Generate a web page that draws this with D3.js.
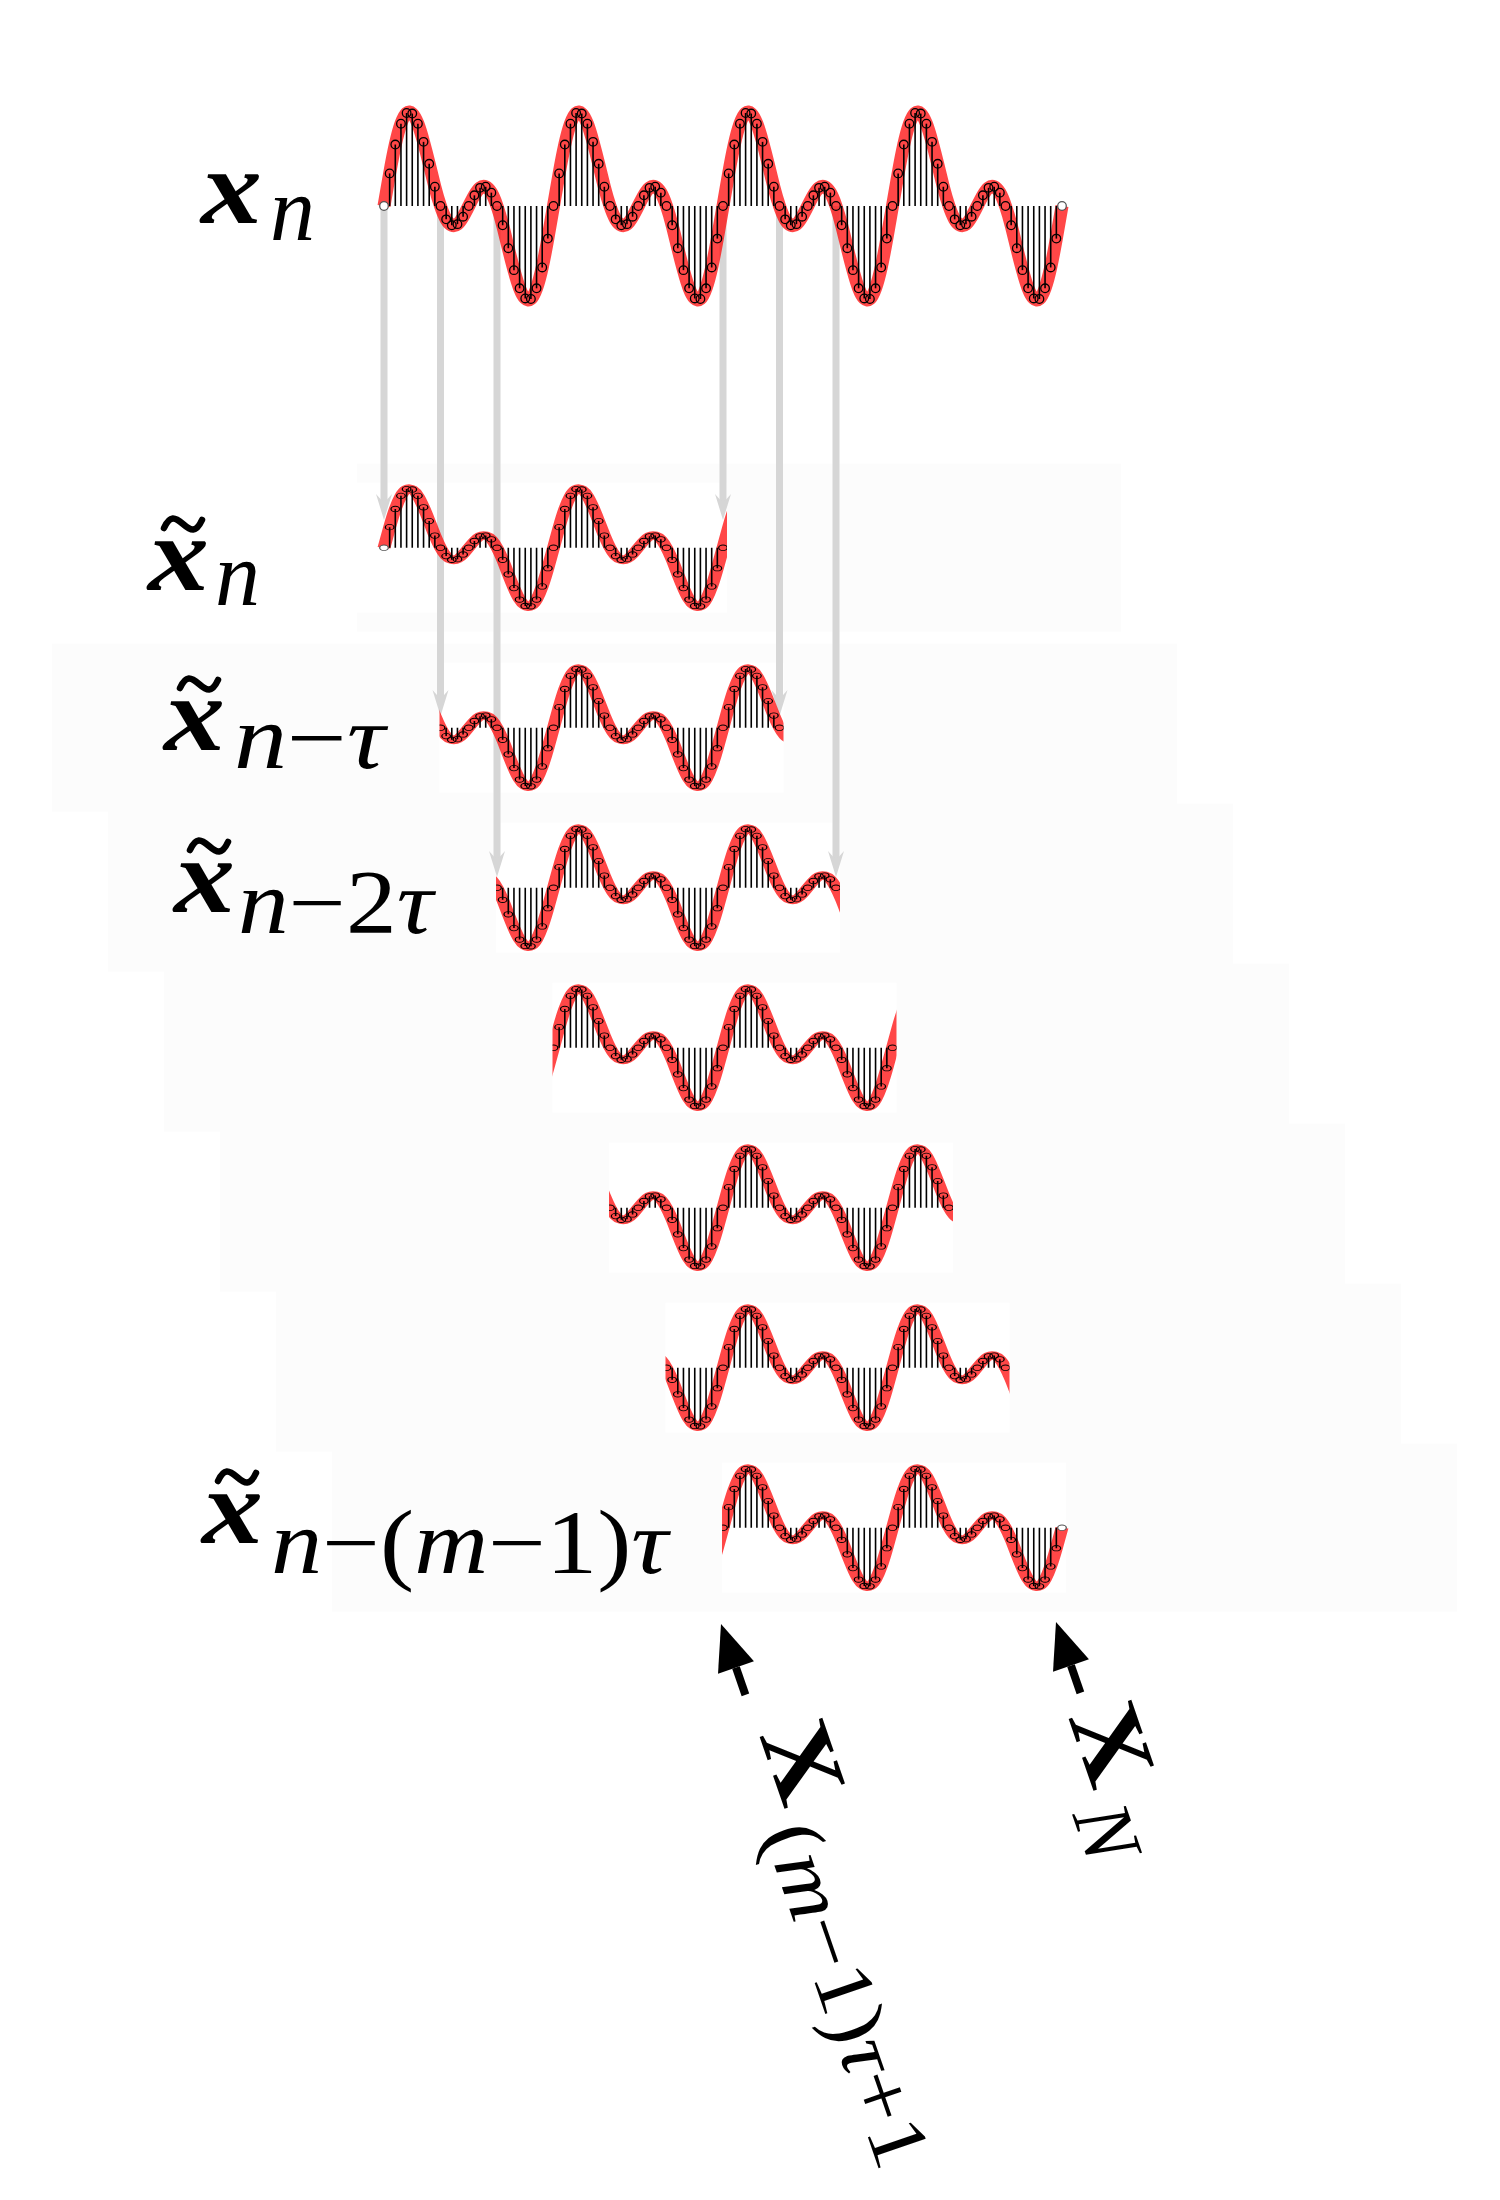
<!DOCTYPE html>
<html>
<head>
<meta charset="utf-8">
<script src="https://cdn.jsdelivr.net/npm/d3@7/dist/d3.min.js"></script>
<style>
  body { margin: 0; background: #fff; }
  text { font-family: "Liberation Serif", "DejaVu Serif", serif; fill: #000; }
</style>
</head>
<body>
<svg id="chart" width="1500" height="2200"></svg>
<script>
var signal = [
  0, 0.61, 1.15, 1.54, 1.74, 1.73, 1.54, 1.20, 0.79, 0.36,
  0, -0.25, -0.36, -0.34, -0.20, 0, 0.20, 0.34, 0.36, 0.25,
  0, -0.36, -0.79, -1.20, -1.54, -1.73, -1.74, -1.54, -1.15, -0.61,
  0, 0.61, 1.15, 1.54, 1.74, 1.73, 1.54, 1.20, 0.79, 0.36,
  0, -0.25, -0.36, -0.34, -0.20, 0, 0.20, 0.34, 0.36, 0.25,
  0, -0.36, -0.79, -1.20, -1.54, -1.73, -1.74, -1.54, -1.15, -0.61,
  0, 0.61, 1.15, 1.54, 1.74, 1.73, 1.54, 1.20, 0.79, 0.36,
  0, -0.25, -0.36, -0.34, -0.20, 0, 0.20, 0.34, 0.36, 0.25,
  0, -0.36, -0.79, -1.20, -1.54, -1.73, -1.74, -1.54, -1.15, -0.61,
  0, 0.61, 1.15, 1.54, 1.74, 1.73, 1.54, 1.20, 0.79, 0.36,
  0, -0.25, -0.36, -0.34, -0.20, 0, 0.20, 0.34, 0.36, 0.25,
  0, -0.36, -0.79, -1.20, -1.54, -1.73, -1.74, -1.54, -1.15, -0.61,
  0
];

// delay embedding: each row starts tau samples later, window of 60 intervals
var tau = 10;
var windowLen = 60;
var rowStarts = [0, 10, 20, 30, 40, 50, 60];

// gray arrows: sample in x_n -> row it lands on
var arrowSamples = [0, 10, 20, 60, 70, 80];
var arrowRows = [0, 1, 2, 0, 1, 2];

// row labels (only some rows carry one); parts are [text, italic]
var rowLabelRows = [0, 1, 2, 6];
var rowLabelSubs = [
  [["n", 1]],
  [["n", 1], ["\u2212", 0], ["\u03c4", 1]],
  [["n", 1], ["\u22122", 0], ["\u03c4", 1]],
  [["n", 1], ["\u2212(", 0], ["m", 1], ["\u22121)", 0], ["\u03c4", 1]]
];
var bottomSubs = [
  [["(", 0], ["m", 1], ["\u22121)", 0], ["\u03c4", 1], ["+1", 0]],
  [["N", 1]]
];

// ---- layout
var svg = d3.select("#chart");
var topBase = 206;
var rowBase = [547.7, 727.7, 887.7, 1047.7, 1207.7, 1367.7, 1527.7];
var squash = 0.63;   // lower rows are drawn vertically compressed
var arrowTip = [520, 716, 877];

var x = d3.scaleLinear().domain([0, signal.length - 1]).range([384, 1062]);
var y = d3.scaleLinear().domain([-1.74, 1.74]).range([93, -93]);

var line = d3.line()
    .x(function(d, i) { return x(i); })
    .y(function(d) { return y(d); })
    .curve(d3.curveNatural);

// faint panel backgrounds behind the delayed rows
var bg = svg.append("g");
rowStarts.forEach(function(s, r) {
    var b = rowBase[r];
    var left = r === 0 ? 357 : x(s) - 1;
    var gx = r === 0 ? left : -4 + 56 * r;
    bg.append("rect")
        .attr("x", gx).attr("y", b - 84)
        .attr("width", 1121 + 56 * r - gx).attr("height", 168)
        .attr("fill", "#fcfcfc");
    bg.append("rect")
        .attr("x", left).attr("y", b - 65)
        .attr("width", x(s + windowLen) + 4 - left).attr("height", 130)
        .attr("fill", "#fff");
});

// gray arrows from x_n down to the delayed rows
var arrows = svg.append("g");
arrowSamples.forEach(function(s, k) {
    var sx = x(s), tip = arrowTip[arrowRows[k]];
    arrows.append("line")
        .attr("x1", sx).attr("y1", topBase)
        .attr("x2", sx).attr("y2", tip - 14)
        .attr("stroke", "#d6d6d6").attr("stroke-width", 7);
    arrows.append("path")
        .attr("d", "M" + sx + "," + tip + "L" + (sx - 8) + "," + (tip - 26) +
                   "L" + sx + "," + (tip - 17) + "L" + (sx + 8) + "," + (tip - 26) + "Z")
        .attr("fill", "#d6d6d6");
});

// one stem row: red curve, stems and circle markers
function drawRow(g, from, to) {
    g.append("path")
        .attr("d", line(signal))
        .attr("fill", "none")
        .attr("stroke", "red").attr("stroke-opacity", 0.72)
        .attr("stroke-width", 13);
    var idx = d3.range(from, to + 1);
    g.selectAll("line.stem").data(idx).enter().append("line")
        .attr("class", "stem")
        .attr("x1", function(i) { return x(i); }).attr("y1", y(0))
        .attr("x2", function(i) { return x(i); }).attr("y2", function(i) { return y(signal[i]); })
        .attr("stroke", "#000").attr("stroke-width", 1.6);
    g.selectAll("circle").data(idx).enter().append("circle")
        .attr("cx", function(i) { return x(i); })
        .attr("cy", function(i) { return y(signal[i]); })
        .attr("r", 4.3)
        .attr("fill", function(i) { return (i === 0 || i === signal.length - 1) ? "#fff" : "none"; })
        .attr("stroke", function(i) { return (i === 0 || i === signal.length - 1) ? "#555" : "#000"; })
        .attr("stroke-width", 1.3);
}

// top row: the full series
var topRow = svg.append("g").attr("transform", "translate(0," + topBase + ")");
drawRow(topRow, 0, signal.length - 1);

// delayed rows, clipped to their window
var defs = svg.append("defs");
rowStarts.forEach(function(s, r) {
    var e = s + windowLen;
    var x0 = s === 0 ? x(s) - 12 : x(s) - 1;
    var x1 = e === signal.length - 1 ? x(e) + 12 : x(e) + 4;
    defs.append("clipPath").attr("id", "clip" + r)
        .append("rect")
        .attr("x", x0).attr("y", -130)
        .attr("width", x1 - x0).attr("height", 260);
    var g = svg.append("g")
        .attr("transform", "translate(0," + rowBase[r] + ") scale(1," + squash + ")")
        .append("g").attr("clip-path", "url(#clip" + r + ")");
    drawRow(g, s, e);
});

// ---- labels
function subscript(g, parts, x0, yb, size, width) {
    var t = g.append("text").style("font-size", size + "px");
    parts.forEach(function(p) {
        t.append("tspan").text(p[0]).style("font-style", p[1] ? "italic" : "normal");
    });
    var w = t.node().getComputedTextLength();
    var sx = width ? width / w : 1;
    t.attr("transform", "translate(" + x0 + "," + yb + ") scale(" + sx + ",1)");
    return t;
}

// bold italic x, optionally with a tilde accent drawn above it
function mainX(g, x0, yb, tilde) {
    g.append("text")
        .attr("transform", "translate(" + x0 + "," + yb + ") scale(1.15,1)")
        .style("font-size", "106px").style("font-weight", "bold").style("font-style", "italic")
        .text("x");
    if (tilde) {
        var cx = x0 + 35, cy = yb - 66, w = 38;
        var p = d3.path();
        p.moveTo(cx - w / 2, cy + 4);
        p.bezierCurveTo(cx - w / 2 + 6, cy - 9, cx - 8, cy - 7, cx, cy);
        p.bezierCurveTo(cx + 8, cy + 7, cx + w / 2 - 6, cy + 9, cx + w / 2, cy - 4);
        g.append("path")
            .attr("d", p.toString())
            .attr("fill", "none").attr("stroke", "#000")
            .attr("stroke-width", 6.5).attr("stroke-linecap", "round");
    }
}

var labels = svg.append("g");
// x_n
mainX(labels, 201, 223, false);
subscript(labels, [["n", 1]], 270, 240, 90, 0);

// label positions: [x of main glyph, main baseline, sub start, sub baseline, sub width]
var labelPos = [
    [148, 590, 215, 605, 0],
    [164, 750, 234, 768, 151],
    [174, 912, 238, 933, 195],
    [202, 1543, 271, 1573, 397]
];
rowLabelRows.forEach(function(r, k) {
    var p = labelPos[k];
    mainX(labels, p[0], p[1], true);
    subscript(labels, rowLabelSubs[k], p[2], p[3], 90, p[4]);
});

// ---- black arrows and rotated labels below the last row
var rot = 71;
function blackArrow(tx, ty) {
    var a = rot * Math.PI / 180, dx = Math.cos(a), dy = Math.sin(a);
    var len = 75, hl = 46, hw = 19;
    var bx = tx + hl * dx, by = ty + hl * dy;
    svg.append("line")
        .attr("x1", bx).attr("y1", by)
        .attr("x2", tx + len * dx).attr("y2", ty + len * dy)
        .attr("stroke", "#000").attr("stroke-width", 8);
    svg.append("path")
        .attr("d", "M" + tx + "," + ty +
                   "L" + (bx - hw * dy) + "," + (by + hw * dx) +
                   "L" + (bx + hw * dy) + "," + (by - hw * dx) + "Z")
        .attr("fill", "#000");
}
blackArrow(721, 1624);
blackArrow(1056, 1622);

var bottomAnchors = [[759, 1735, 360], [1068, 1717, 0]];
bottomAnchors.forEach(function(p, k) {
    var g = svg.append("g")
        .attr("transform", "translate(" + p[0] + "," + p[1] + ") rotate(" + rot + ")");
    g.append("text")
        .attr("transform", "scale(1.1,1)")
        .style("font-size", "100px").style("font-weight", "bold")
        .text("X");
    subscript(g, bottomSubs[k], 94, 28, 82, p[2]);
});
</script>
</body>
</html>
